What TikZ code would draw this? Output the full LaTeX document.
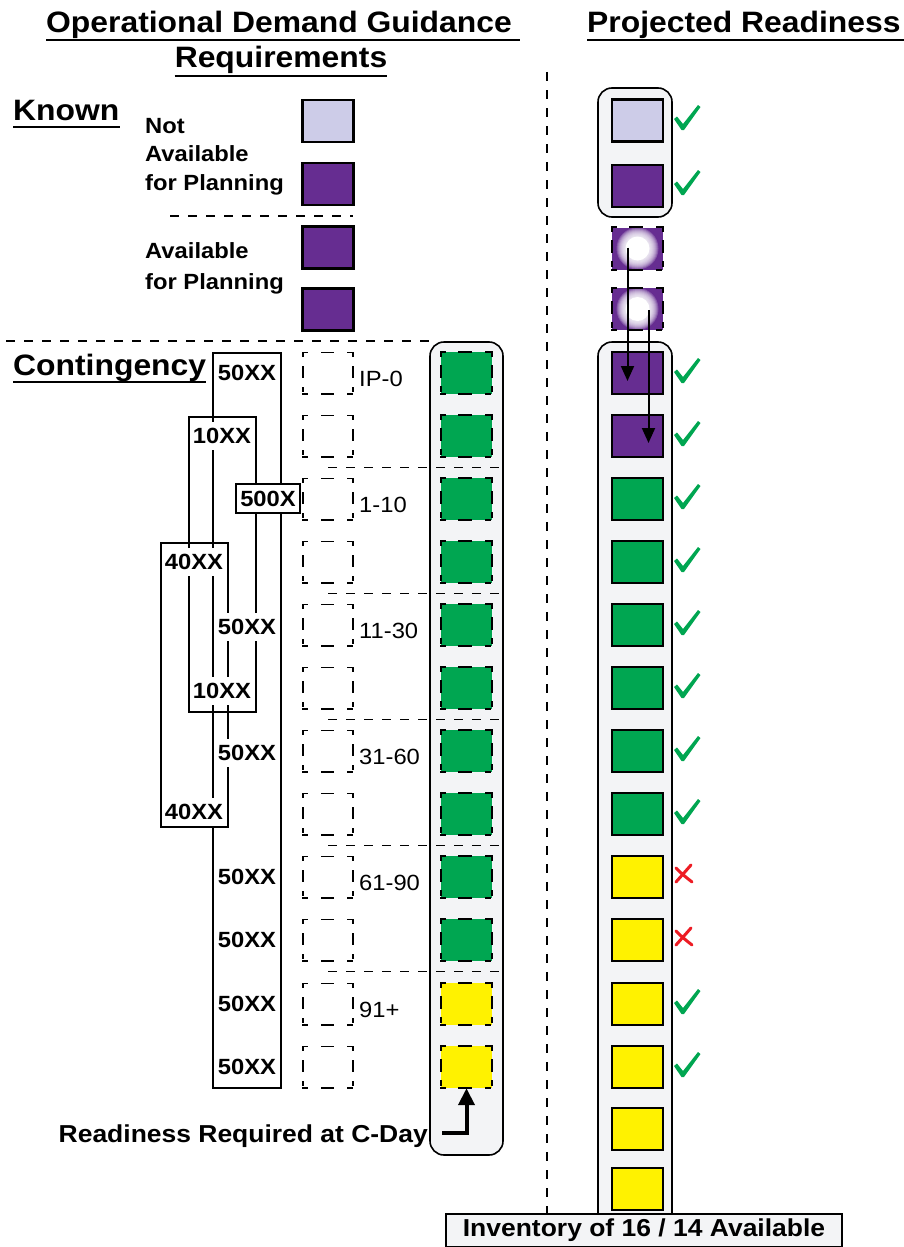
\documentclass[tikz,border=0pt]{standalone}
\usepackage{fontspec}
\setmainfont{Liberation Sans}[FakeStretch=1.08]
\usetikzlibrary{arrows.meta,calc}
\definecolor{lav}{HTML}{CDCCE8}
\definecolor{pur}{HTML}{662D91}
\definecolor{grn}{HTML}{00A651}
\definecolor{ylw}{HTML}{FFF200}
\definecolor{boxfill}{HTML}{F3F4F6}
\definecolor{chkgreen}{HTML}{00A651}
\definecolor{xred}{HTML}{ED1C24}
\tikzset{
  sq/.style={draw, line width=2.2pt, minimum width=51pt, minimum height=42pt, inner sep=0pt},
  fsq/.style={minimum width=51pt, minimum height=42pt, inner sep=0pt},
  esq/.style={minimum width=50pt, minimum height=41pt, inner sep=0pt},
  hd/.style={line cap=rect, dash pattern=on 4pt off 14.5pt on 12pt off 14.5pt on 4pt off 20pt},
  vd/.style={line cap=rect, dash pattern=on 4pt off 10pt on 11pt off 10pt on 4pt off 20pt},
  roundbox/.style={draw, line width=1.6pt, fill=boxfill, rounded corners=14pt},
  sepline/.style={line width=1.6pt, dash pattern=on 9pt off 9pt},
  ttl/.style={font=\bfseries\fontsize{29.5}{34}\selectfont, inner sep=0pt},
  lbl/.style={font=\bfseries\fontsize{22}{26}\selectfont, inner sep=0pt, anchor=base west},
  rng/.style={font=\fontsize{22}{26}\selectfont, inner sep=0pt, anchor=base west},
  code/.style={font=\bfseries\fontsize{22}{26}\selectfont, fill=white, inner xsep=1pt, inner ysep=6pt},
  frame/.style={draw, line width=1.6pt},
  ul/.style={line width=2.4pt},
  arr/.style={line width=2pt, -{Triangle[length=15pt,width=13pt]}},
  chk/.pic={\fill[chkgreen] (-13,1) -- (-10,-1.5) -- (-4,6) -- (11,-13) -- (13.5,-11) -- (-3,12) -- (-5.5,12) -- cycle;},
  crs/.pic={\draw[xred, line width=3pt, line cap=round] (-8,-6) .. controls (-2,0) .. (8,8) (7,-9) .. controls (0,0) .. (-8,8);}
}
\newcommand\DashBorder[2]{%
  \draw[line width=#2, hd] (#1.north west) -- (#1.north east);
  \draw[line width=#2, hd] (#1.south west) -- (#1.south east);
  \draw[line width=#2, vd] (#1.north west) -- (#1.south west);
  \draw[line width=#2, vd] (#1.north east) -- (#1.south east);}
\newcommand\GlowIn[1]{%
  \begin{scope}
    \clip (#1.south west) rectangle (#1.north east);
    \foreach \r in {21,20,19,18,17,16,15,14,13}
      \fill[white, opacity=0.2] (#1.center) circle (\r pt);
    \fill[white] (#1.center) circle (12pt);
  \end{scope}}
\begin{document}
\begin{tikzpicture}[x=1pt,y=-1pt]
\useasboundingbox (0,0) rectangle (903,1247);

% titles
\node[ttl, anchor=base west] (t1) at (46,33) {Operational Demand Guidance};
\draw[ul] ($(t1.base west)+(0,7)$) -- ($(t1.base east)+(8,7)$);
\node[ttl, anchor=base] (t2) at (281,67) {Requirements};
\draw[ul] ($(t2.base west)+(0,9)$) -- ($(t2.base east)+(0,9)$);
\node[ttl, anchor=base west] (t3) at (587,33) {Projected Readiness};
\draw[ul] ($(t3.base west)+(0,7)$) -- ($(t3.base east)+(8,7)$);
\node[ttl, anchor=base west] (known) at (13,120) {Known};
\draw[ul] ($(known.base west)+(0,7)$) -- ($(known.base east)+(0,7)$);
\node[ttl, anchor=base west] (cont) at (13,375) {Contingency};
\draw[ul] ($(cont.base west)+(0,7)$) -- ($(cont.base east)+(0,7)$);

% separators
\draw[sepline] (547,72) -- (547,1214);
\draw[sepline] (170,216) -- (353,216);
\draw[sepline] (6,341) -- (430,341);

% known labels and squares
\node[lbl] (kn1) at (145,133) {Not};
\node[lbl] (kn2) at (145,161) {Available};
\node[lbl] (kn3) at (145,190) {for Planning};
\node[lbl] (av1) at (145,258) {Available};
\node[lbl] (av2) at (145,289) {for Planning};
\node[sq, fill=lav] (k1) at (328,121) {};
\node[sq, fill=pur] (k2) at (328,184) {};
\node[sq, fill=pur] (k3) at (328,247.5) {};
\node[sq, fill=pur] (k4) at (328,309.5) {};

% rounded boxes
\draw[roundbox] (430,342) rectangle (503,1155);
\draw[roundbox] (598,88) rectangle (672,217);
\draw[roundbox] (598,342) rectangle (672,1228);

% row separators
\foreach \y in {467.5,593.5,719.5,845.5,971.5}
  \draw[sepline] (328,\y) -- (502,\y);

% rows
\foreach \i/\y in {1/373,2/436,3/499,4/562,5/625,6/688,7/751,8/814,9/877,10/940,11/1004,12/1067}{
  \node[esq] (e\i) at (328,\y) {};
  \DashBorder{e\i}{1.6pt}
}
\foreach \i/\y in {1/373,2/436,3/499,4/562,5/625,6/688,7/751,8/814,9/877,10/940}{
  \node[fsq, fill=grn] (g\i) at (466.5,\y) {};
  \DashBorder{g\i}{2.2pt}
}
\foreach \i/\y in {11/1004,12/1067}{
  \node[fsq, fill=ylw] (g\i) at (466.5,\y) {};
  \DashBorder{g\i}{2.2pt}
}
\foreach \i/\y in {1/373,2/436}{
  \node[sq, fill=pur] (r\i) at (637.5,\y) {};
}
\foreach \i/\y in {3/499,4/562,5/625,6/688,7/751,8/814}{
  \node[sq, fill=grn] (r\i) at (637.5,\y) {};
}
\foreach \i/\y in {9/877,10/940,11/1004,12/1067,13/1129,14/1189}{
  \node[sq, fill=ylw] (r\i) at (637.5,\y) {};
}

% range labels
\node[rng] (rl1) at (359,386) {IP-0};
\node[rng] (rl3) at (359,512) {1-10};
\node[rng] (rl5) at (359,638) {11-30};
\node[rng] (rl7) at (359,764) {31-60};
\node[rng] (rl9) at (359,890) {61-90};
\node[rng] (rl11) at (359,1017) {91+};

% nested code boxes
\draw[frame] (213,353) rectangle (281,1088);
\draw[frame] (189,417) rectangle (256,712);
\draw[frame] (161,543) rectangle (228,827);
\node[code] (c1) at (247,373) {50XX};
\node[code] (c2) at (222,436) {10XX};
\node[code, draw, line width=1.6pt, minimum width=64pt, minimum height=29pt, inner sep=0pt] (c3) at (268,498.5) {500X};
\node[code] (c4) at (194,562) {40XX};
\node[code] (c5) at (247,627) {50XX};
\node[code] (c6) at (222,691) {10XX};
\node[code] (c7) at (247,753) {50XX};
\node[code] (c8) at (194,812) {40XX};
\node[code] (c9) at (247,877) {50XX};
\node[code] (c10) at (247,940) {50XX};
\node[code] (c11) at (247,1004) {50XX};
\node[code] (c12) at (247,1067) {50XX};

% readiness arrow
\node[font=\bfseries\fontsize{24.5}{28}\selectfont, inner sep=0pt, anchor=base east] (rdq) at (428,1142) {Readiness Required at C-Day};
\coordinate (rdS) at ($(rdq.base east)+(14,-9)$);
\draw[line width=4pt, -{Triangle[length=17pt,width=16pt]}] (rdS) -- (rdS -| g12.south) -- (g12.south);

% right column known squares
\node[sq, fill=lav] (rk1) at (637.5,120.5) {};
\node[sq, fill=pur] (rk2) at (637.5,186) {};

% glowing squares
\node[fsq, fill=pur] (gl1) at (637.5,248.5) {};
\node[fsq, fill=pur] (gl2) at (637.5,309) {};
\GlowIn{gl1}
\GlowIn{gl2}
\DashBorder{gl1}{2.2pt}
\DashBorder{gl2}{2.2pt}

\coordinate (a1s) at ($(gl1.center)+(-10,-1)$);
\coordinate (a1e) at ($(r1.center)+(-10,8)$);
\draw[arr] (a1s) -- (a1e);
\coordinate (a2s) at ($(gl2.center)+(11,1)$);
\coordinate (a2e) at ($(r2.center)+(11,7)$);
\draw[arr] (a2s) -- (a2e);

% checks and crosses
\foreach \y in {118,183,371,434,497,560,623,686,749,812,1002,1065}
  \pic at (687,\y) {chk};
\foreach \y in {874,937}
  \pic at (684,\y) {crs};

% inventory
\node[draw, line width=1.6pt, fill=boxfill, minimum width=396pt, minimum height=33pt, inner sep=0pt, font=\bfseries\fontsize{24.5}{28}\selectfont] (inv) at (644,1230.5) {Inventory of 16 / 14 Available};
\end{tikzpicture}
\end{document}
